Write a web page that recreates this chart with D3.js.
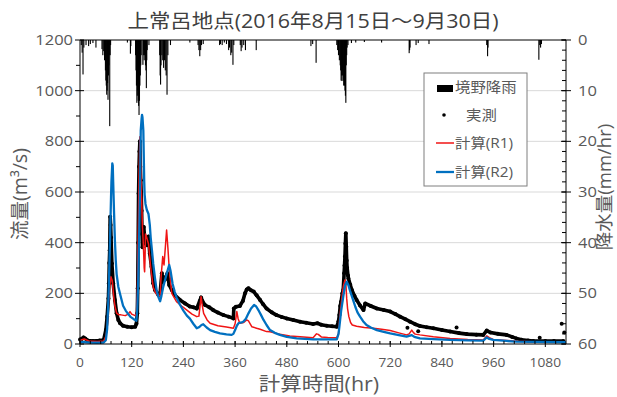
<!DOCTYPE html>
<html>
<head>
<meta charset="utf-8">
<script src="https://cdn.jsdelivr.net/npm/d3@7"></script>
<style>
  body { margin: 0; background: #fff; }
  text { font-family: "Open Sans", "Noto Sans CJK JP", sans-serif; }
</style>
</head>
<body>
<svg id="chart"></svg>
<script>
// hours since 2016-08-15 00:00
var xTicks = [0, 120, 240, 360, 480, 600, 720, 840, 960, 1080];
var flowTicks = [0, 200, 400, 600, 800, 1000, 1200];
var rainTicks = [0, 10, 20, 30, 40, 50, 60];

// 境野 rainfall [hr, mm/hr]
var rain = [[3,1],[5,2.5],[7,6.8],[9,1.5],[14,1],[20,1.2],[24,0.8],[30,0.6],[37,1.5],
  [51,1.8],[53,3],[55,2.2],[57,4],[59,6],[60,8],[61,9],[62,10.8],[63,10],[64,8.5],[65,11.8],
  [66,7],[67,5],[68,3],[69,17],[70,3],[71,1],[110,0.5],[117,2.7],[118,1.2],
  [129,3],[130,6],[131,9],[132,12.4],[133,11],[134,10],[135,12],[136,13],[137,14.8],[138,12],
  [139,9],[140,7],[141,5],[142,3],[146,4.9],[147,3],[148,2],[149,4],[150,3],[151,2.5],[152,5],
  [153,6],[154,9.5],[155,4],[156,2],[160,1],[185,3],[186,7],[187,8.8],[188,5],[190,3],[192,4],
  [194,5.5],[196,4],[198,6],[200,7],[202,10.8],[204,3],[210,1],[255,0.5],[274,1],[276,2],
  [278,3.2],[280,2],[282,1],[286,0.8],[324,1],[326,0.8],[330,1],[335,0.5],[340,0.8],[345,2],
  [347,1.5],[350,3],[352,2.5],[355,4.9],[357,1],[372,1],[374,2.2],[376,1.5],[380,1],[384,2],
  [409,2],[536,1.2],[540,0.8],[548,4.5],[596,1],[598,2],[600,3],[602,4],[604,5],[605,6],
  [606,8],[607,7],[608,8.1],[609,7],[610,6],[611,8],[612,9],[613,7],[614,9],[615,10],[616,11],
  [617,12.4],[618,5],[619,3],[620,1.5],[622,1],[630,0.6],[640,0.5],[660,0.4],[700,0.5],
  [764,2.6],[765,2],[766,1.5],[780,1],[785,0.6],[810,0.8],[944,1],[946,3.2],[947,1.5],
  [1065,3.9],[1067,1],[1069,1.5],[1071,0.8]];

// 実測 flow [hr, m3/s]
var observed = [[0,18],[4,20],[8,26],[12,22],[18,14],[30,12],[45,14],[55,16],[60,55],[63,108],
  [66,180],[67,240],[68,320],[69,370],[70,502],[71,470],[72,420],[74,318],[77,240],[81,174],
  [85,121],[89,95],[93,82],[100,72],[110,68],[120,66],[128,68],[131,80],[133,121],[134,220],
  [135,400],[136,594],[137,700],[138,760],[139,800],[140,700],[141,646],[142,600],[143,526],
  [144,434],[145,382],[147,420],[148,462],[150,420],[151,404],[155,390],[159,424],[162,357],
  [166,305],[170,240],[174,213],[182,193],[186,200],[190,279],[193,246],[197,255],[200,266],
  [203,279],[207,233],[213,213],[220,193],[232,174],[244,160],[255,148],[263,145],[271,140],
  [278,170],[281,184],[284,170],[290,154],[300,145],[309,134],[320,124],[333,114],[345,108],
  [356,101],[357,140],[362,147],[371,150],[378,170],[383,200],[387,215],[391,220],[397,212],
  [403,207],[410,192],[418,174],[425,157],[433,140],[445,125],[456,114],[468,107],[480,101],
  [495,95],[511,88],[525,84],[541,79],[551,82],[560,76],[573,72],[585,70],[596,68],[600,90],
  [602,114],[604,150],[606,167],[609,200],[611,213],[613,279],[614,310],[615,345],[616,397],
  [617,437],[618,384],[619,330],[620,300],[622,270],[623,259],[627,235],[631,213],[637,190],
  [642,174],[650,152],[658,134],[662,160],[675,150],[689,140],[705,134],[720,128],[732,118],
  [743,108],[755,98],[766,88],[778,78],[789,71],[805,66],[820,62],[840,55],[859,49],[880,43],
  [898,39],[920,37],[936,36],[944,53],[953,45],[970,40],[990,36],[1003,28],[1013,22],
  [1025,17],[1040,14],[1052,12],[1080,12],[1100,12],[1122,12]];
var observedStray = [[760,64],[785,50],[874,65],[1067,25],[1118,80],[1124,45]];

// 計算(R1)
var calcR1 = [[0,15],[10,20],[20,12],[40,10],[55,12],[60,30],[63,60],[66,150],[69,230],[72,265],
  [75,250],[78,190],[81,150],[85,122],[90,115],[95,115],[105,112],[112,118],[116,128],[120,118],
  [128,112],[131,120],[133,200],[135,434],[137,650],[139,818],[140,790],[142,631],[145,460],
  [147,395],[149,300],[150,285],[151,340],[152,434],[155,420],[159,395],[164,303],[170,224],
  [176,200],[182,190],[186,190],[188,260],[192,345],[195,312],[198,380],[201,450],[204,380],
  [207,300],[213,200],[224,167],[236,150],[248,134],[260,118],[271,108],[276,110],[281,187],
  [284,150],[287,121],[295,95],[302,82],[320,72],[340,67],[356,62],[360,80],[364,128],[367,100],
  [371,82],[380,85],[387,95],[391,91],[399,68],[410,62],[418,58],[433,49],[441,48],[460,40],
  [487,32],[511,29],[541,25],[549,40],[553,38],[560,28],[575,26],[596,25],[600,40],[603,108],
  [607,170],[611,226],[615,253],[617,240],[619,180],[621,140],[624,108],[628,85],[632,75],
  [642,70],[660,65],[681,62],[700,58],[720,53],[740,44],[758,36],[764,40],[770,55],[774,45],
  [778,39],[789,36],[820,29],[859,22],[900,18],[936,16],[944,32],[950,25],[959,18],[990,14],
  [1013,11],[1050,9],[1090,8],[1128,7]];

// 計算(R2)
var calcR2 = [[0,8],[20,6],[40,5],[55,6],[60,15],[63,60],[66,174],[68,300],[70,434],[72,580],
  [73,640],[75,713],[76,705],[77,640],[79,520],[81,408],[83,330],[85,276],[89,225],[93,197],
  [100,151],[106,132],[112,118],[118,106],[124,99],[131,92],[133,140],[135,240],[137,400],
  [139,579],[141,842],[143,890],[144,904],[145,895],[147,842],[149,645],[150,590],[152,553],
  [155,530],[159,513],[162,470],[164,421],[167,370],[170,316],[174,260],[178,211],[182,185],
  [186,169],[189,190],[193,224],[197,250],[201,276],[205,300],[207,312],[210,290],[215,237],
  [220,205],[224,184],[232,155],[240,132],[248,112],[255,100],[263,80],[271,62],[276,66],
  [282,75],[286,78],[294,65],[302,55],[313,48],[325,42],[340,38],[352,36],[356,40],[360,55],
  [364,72],[368,82],[375,85],[379,88],[385,100],[391,121],[397,140],[404,154],[409,148],
  [414,134],[420,115],[426,95],[433,75],[441,55],[452,44],[464,36],[480,28],[503,22],[541,18],
  [560,18],[596,18],[600,40],[602,68],[606,130],[611,187],[615,230],[619,246],[623,232],
  [627,209],[633,178],[639,147],[644,125],[650,108],[657,90],[665,75],[676,64],[689,55],
  [705,48],[720,42],[740,35],[758,29],[764,32],[770,35],[776,28],[789,22],[820,19],[859,16],
  [900,14],[936,13],[944,26],[950,20],[959,16],[990,12],[1013,9],[1060,8],[1128,7]];

var W = 617, H = 397;
var margin = {top: 40, right: 51, bottom: 53, left: 80},
    width = W - margin.left - margin.right,
    height = H - margin.top - margin.bottom;
var SX = 1.1; // text is a bit wide in the source picture

var svg = d3.select("#chart").attr("width", W).attr("height", H);
var g = svg.append("g").attr("transform", "translate(" + margin.left + "," + margin.top + ")");

var x = d3.scaleLinear().domain([0, 1128]).range([0, width]);
var y = d3.scaleLinear().domain([0, 1200]).range([height, 0]);
var yr = d3.scaleLinear().domain([0, 60]).range([0, height]);

function txt(sel, px, py, s, size, anchor, fill) {
  return sel.append("text")
    .attr("transform", "translate(" + px + "," + py + ") scale(" + SX + ",1)")
    .attr("text-anchor", anchor || "middle")
    .attr("font-size", size)
    .attr("fill", fill || "#595959")
    .text(s);
}

// gridlines
g.selectAll(".grid").data(flowTicks.filter(d => d > 0 && d < 1200)).enter()
  .append("line")
  .attr("x1", 0).attr("x2", width)
  .attr("y1", d => y(d)).attr("y2", d => y(d))
  .attr("stroke", "#d9d9d9").attr("stroke-width", 1);

// rain hanging from the top
var bw = Math.max(x(1) - x(0), 1.1);
g.selectAll(".rain").data(rain).enter().append("rect")
  .attr("x", d => x(d[0]) - bw / 2)
  .attr("y", 0)
  .attr("width", bw)
  .attr("height", d => yr(d[1]))
  .attr("fill", "#000");

// observed: hourly dots dense enough to read as a thick trace
var line = d3.line().x(d => x(d[0])).y(d => y(d[1]));
g.append("path").datum(observed)
  .attr("d", line).attr("fill", "none")
  .attr("stroke", "#000").attr("stroke-width", 3.6).attr("stroke-linejoin", "round");
g.selectAll(".obs").data(observed.concat(observedStray)).enter().append("circle")
  .attr("cx", d => x(d[0])).attr("cy", d => y(d[1])).attr("r", 2)
  .attr("fill", "#000");

g.append("path").datum(calcR1)
  .attr("d", line).attr("fill", "none")
  .attr("stroke", "#f01414").attr("stroke-width", 1.5).attr("stroke-linejoin", "round");
g.append("path").datum(calcR2)
  .attr("d", line).attr("fill", "none")
  .attr("stroke", "#0070c0").attr("stroke-width", 2.3).attr("stroke-linejoin", "round");

// frame lines
g.append("line").attr("x1", 0).attr("x2", width).attr("y1", 0).attr("y2", 0).attr("stroke", "#000");
g.append("line").attr("x1", 0).attr("x2", width).attr("y1", height).attr("y2", height).attr("stroke", "#000");
g.append("line").attr("x1", 0).attr("x2", 0).attr("y1", 0).attr("y2", height).attr("stroke", "#000");
g.append("line").attr("x1", width).attr("x2", width).attr("y1", 0).attr("y2", height).attr("stroke", "#000");

// left axis ticks
g.selectAll(".lmin").data(d3.range(100, 1200, 200)).enter().append("line")
  .attr("x1", -4).attr("x2", 0).attr("y1", d => y(d)).attr("y2", d => y(d)).attr("stroke", "#000");
g.selectAll(".lmaj").data(flowTicks).enter().append("line")
  .attr("x1", -5).attr("x2", 4).attr("y1", d => y(d)).attr("y2", d => y(d)).attr("stroke", "#000");
flowTicks.forEach(d => txt(g, -7, y(d) + 5, d, 15, "end"));

// right axis ticks
g.selectAll(".rmin").data(d3.range(0, 61, 2)).enter().append("line")
  .attr("x1", width - 4).attr("x2", width).attr("y1", d => yr(d)).attr("y2", d => yr(d)).attr("stroke", "#000");
g.selectAll(".rmaj").data(rainTicks).enter().append("line")
  .attr("x1", width - 5).attr("x2", width + 5).attr("y1", d => yr(d)).attr("y2", d => yr(d)).attr("stroke", "#000");
rainTicks.forEach(d => txt(g, width + 12, yr(d) + 5, d, 15, "start"));

// bottom axis ticks
g.selectAll(".xmin").data(d3.range(0, 1128, 24)).enter().append("line")
  .attr("x1", d => x(d)).attr("x2", d => x(d)).attr("y1", height - 3).attr("y2", height).attr("stroke", "#000");
g.selectAll(".xmaj").data(xTicks).enter().append("line")
  .attr("x1", d => x(d)).attr("x2", d => x(d)).attr("y1", height - 3).attr("y2", height + 3).attr("stroke", "#000");
xTicks.forEach(d => txt(g, x(d), height + 23, d, 12.5, "middle"));

// titles
txt(svg, 313, 28, "上常呂地点(2016年8月15日～9月30日)", 19.5, "middle", "#404040");
txt(svg, 319, 391, "計算時間(hr)", 19.5, "middle");
svg.append("text").attr("transform", "translate(27,194) rotate(-90)")
  .attr("text-anchor", "middle").attr("font-size", 19.5).attr("fill", "#595959").text("流量(m³/s)");
svg.append("text").attr("transform", "translate(611,187) rotate(-90)")
  .attr("text-anchor", "middle").attr("font-size", 18.5).attr("fill", "#595959").text("降水量(mm/hr)");

// legend
var lg = svg.append("g").attr("transform", "translate(424,73)");
lg.append("rect").attr("width", 103).attr("height", 113)
  .attr("fill", "#fff").attr("stroke", "#7f7f7f").attr("stroke-width", 1);
lg.append("rect").attr("x", 13).attr("y", 12).attr("width", 16).attr("height", 7).attr("fill", "#000");
lg.append("circle").attr("cx", 20).attr("cy", 42).attr("r", 1.8).attr("fill", "#000");
lg.append("line").attr("x1", 12).attr("x2", 30).attr("y1", 70).attr("y2", 70)
  .attr("stroke", "#f01414").attr("stroke-width", 1.5);
lg.append("line").attr("x1", 12).attr("x2", 30).attr("y1", 99).attr("y2", 99)
  .attr("stroke", "#0070c0").attr("stroke-width", 2.3);
txt(lg, 31, 19, "境野降雨", 14, "start");
txt(lg, 42, 47, "実測", 14, "start");
txt(lg, 31, 75, "計算(R1)", 14, "start");
txt(lg, 31, 104, "計算(R2)", 14, "start");
</script>
</body>
</html>
